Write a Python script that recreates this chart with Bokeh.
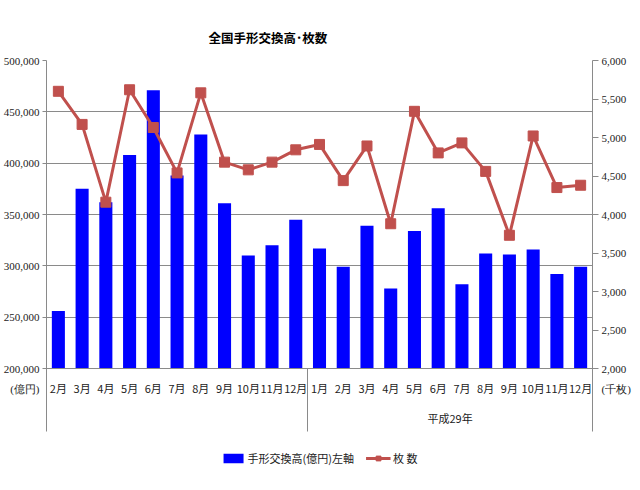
from bokeh.plotting import figure
from bokeh.models import (Range1d, LinearAxis, NumeralTickFormatter, FixedTicker,
                          Legend, LegendItem, ColumnDataSource, Grid)
from bokeh.embed import file_html
from bokeh.resources import INLINE

# ---- data ----
months_h28 = ["2月", "3月", "4月", "5月", "6月", "7月", "8月", "9月", "10月", "11月", "12月"]
months_h29 = ["1月", "2月", "3月", "4月", "5月", "6月", "7月", "8月", "9月", "10月", "11月", "12月"]
year_h29 = "平成29年"
amount_h28 = [256000, 375000, 362000, 408000, 471000, 388000, 428000, 361000, 310000, 320000, 345000]
amount_h29 = [317000, 299000, 339000, 278000, 334000, 356000, 282000, 312000, 311000, 316000, 292000, 299000]
count_h28 = [5600, 5170, 4160, 5620, 5130, 4540, 5580, 4680, 4580, 4680, 4840]
count_h29 = [4910, 4440, 4890, 3880, 5340, 4800, 4930, 4560, 3730, 5020, 4350, 4380]
left_ticks = [200000, 250000, 300000, 350000, 400000, 450000, 500000]
right_ticks = [2000, 2500, 3000, 3500, 4000, 4500, 5000, 5500, 6000]
title_text = "全国手形交換高･枚数"
bar_label = "手形交換高(億円)左軸"
line_label = "枚 数"
left_unit = "(億円)"
right_unit = "(千枚)"

labels = months_h28 + months_h29
n1, n2 = len(months_h28), len(months_h29)
n = n1 + n2
centers = [i + 0.5 for i in range(n)]   # category slots on a 0..n axis

src = ColumnDataSource(dict(pos=centers, amount=amount_h28 + amount_h29,
                            count=count_h28 + count_h29))

# layout: value area 308px tall; below it inside the frame a 63px label band and a 45px legend band
VAL_H, BAND_H, LEG_H, UNIT_DY = 308, 63, 45, 20
lo, hi = left_ticks[0], left_ticks[-1]
rlo, rhi = right_ticks[0], right_ticks[-1]
y_lo = lo - (hi - lo) * (BAND_H + LEG_H) / VAL_H
ry_lo = rlo - (rhi - rlo) * (BAND_H + LEG_H) / VAL_H
y_band = lo - (hi - lo) * BAND_H / VAL_H
ry_band = rlo - (rhi - rlo) * BAND_H / VAL_H
unit_y = lo - (hi - lo) * UNIT_DY / VAL_H
runit_y = rlo - (rhi - rlo) * UNIT_DY / VAL_H

CJK = "Noto Sans CJK JP"
NUM = "Liberation Sans Narrow"
GRID = "#8a8a8a"
RED = "#C0504D"
TXT = "#222222"

p = figure(x_range=Range1d(0, n), y_range=Range1d(y_lo, hi),
           frame_width=546, frame_height=VAL_H + BAND_H + LEG_H,
           output_backend="svg", toolbar_location=None,
           x_axis_location=None, y_axis_location=None,
           min_border_left=41, min_border_right=37, min_border_top=60, min_border_bottom=0)
p.extra_y_ranges = {"right": Range1d(ry_lo, rhi)}
p.outline_line_color = None
p.background_fill_color = "white"
p.xgrid.visible = False
p.ygrid.visible = False


def style_ax(ax, standoff, font, size):
    ax.axis_line_color = GRID
    ax.major_tick_line_color = GRID
    ax.minor_tick_line_color = GRID
    ax.major_tick_out = 0
    ax.major_tick_in = 0
    ax.minor_tick_out = 0
    ax.minor_tick_in = 0
    ax.major_label_standoff = standoff
    ax.major_label_text_font = font
    ax.major_label_text_font_size = size
    ax.major_label_text_color = TXT


# y axes: numeric ticks (tick marks as minor ticks) plus the unit caption beside the month row
lax = LinearAxis(ticker=FixedTicker(ticks=left_ticks + [unit_y], minor_ticks=left_ticks),
                 formatter=NumeralTickFormatter(format="0,0"),
                 major_label_overrides={unit_y: left_unit}, bounds=(y_band, hi))
style_ax(lax, 3, NUM, "11px")
lax.minor_tick_out = 4
p.add_layout(lax, "left")
rax = LinearAxis(y_range_name="right",
                 ticker=FixedTicker(ticks=right_ticks + [runit_y], minor_ticks=right_ticks),
                 formatter=NumeralTickFormatter(format="0,0"),
                 major_label_overrides={runit_y: right_unit}, bounds=(ry_band, rhi))
style_ax(rax, 3, NUM, "11px")
rax.minor_tick_out = 6
p.add_layout(rax, "right")

p.add_layout(Grid(dimension=1, ticker=FixedTicker(ticks=left_ticks),
                  grid_line_color=GRID, bounds=(lo, hi)))

bars = p.vbar(x="pos", top="amount", bottom=lo, width=0.55, source=src,
              fill_color="#0000FF", line_color=None)
ln = p.line(x="pos", y="count", source=src, y_range_name="right",
            line_color=RED, line_width=3)
mk = p.scatter(x="pos", y="count", source=src, y_range_name="right",
               marker="square", size=10, fill_color=RED, line_color=RED)

# legend in the bottom band of the frame
legend = Legend(items=[LegendItem(label=bar_label, renderers=[bars]),
                       LegendItem(label=line_label, renderers=[ln, mk])],
                orientation="horizontal", location="bottom_center",
                glyph_width=25, glyph_height=12, spacing=12, label_standoff=2,
                padding=5, margin=10, border_line_color=None, background_fill_alpha=0,
                label_text_font=CJK, label_text_font_size="11px", label_text_color=TXT)
p.add_layout(legend)

# month axis at the value baseline
max_ = LinearAxis(fixed_location=lo, ticker=FixedTicker(ticks=centers),
                  major_label_overrides={c: l for c, l in zip(centers, labels)})
style_ax(max_, 11, CJK, "11px")
p.add_layout(max_, "below")

# year group label
yax = LinearAxis(fixed_location=lo, ticker=FixedTicker(ticks=[n1 + n2 / 2]),
                 major_label_overrides={n1 + n2 / 2: year_h29})
style_ax(yax, 41, CJK, "11px")
yax.axis_line_color = None
p.add_layout(yax, "below")

# group separator
sax = LinearAxis(fixed_location=lo, ticker=FixedTicker(ticks=[], minor_ticks=[n1]))
style_ax(sax, 0, CJK, "11px")
sax.axis_line_color = None
sax.minor_tick_out = BAND_H
p.add_layout(sax, "below")

p.title.text = title_text
p.title.align = "left"
p.title.offset = 162
p.title.standoff = 27
p.title.text_font = CJK
p.title.text_font_size = "12.5px"
p.title.text_font_style = "bold"
p.title.text_color = "#000000"

open("out.html", "w").write(file_html(p, INLINE))
